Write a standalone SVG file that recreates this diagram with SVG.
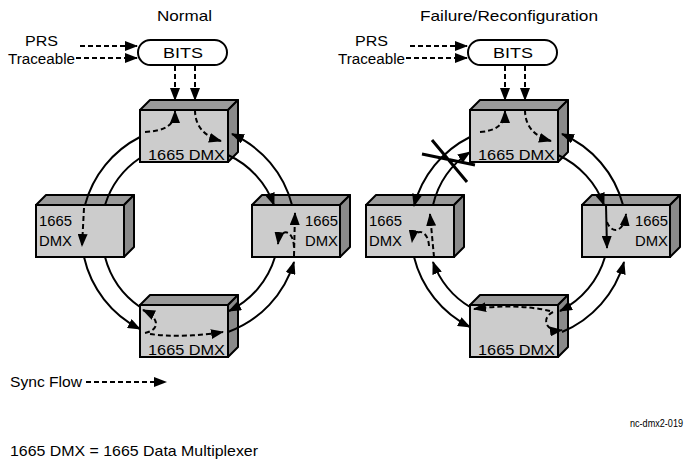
<svg xmlns="http://www.w3.org/2000/svg" width="693" height="466" viewBox="0 0 693 466">
<defs>
<marker id="a" markerUnits="userSpaceOnUse" markerWidth="14" markerHeight="10" refX="12" refY="5" orient="auto"><path d="M0,0 L13,5 L0,10 Z" fill="#000"/></marker>
<g id="box">
<polygon points="0,10 10,0 98,0 88,10" fill="#9a9a9a" stroke="#000" stroke-width="2" stroke-linejoin="round"/>
<polygon points="88,10 98,0 98,52 88,62" fill="#8a8a8a" stroke="#000" stroke-width="2" stroke-linejoin="round"/>
<rect x="0" y="10" width="88" height="52" fill="#cccccc" stroke="#000" stroke-width="2"/>
</g>
</defs>
<style>
text{font-family:"Liberation Sans",Arial,sans-serif;font-size:15px;fill:#000}
.p{font-size:14px}
.s{fill:none;stroke:#000;stroke-width:2}
.d{fill:none;stroke:#000;stroke-width:2;stroke-dasharray:5,3}
.m{marker-end:url(#a)}
</style>
<rect width="693" height="466" fill="#fff"/>
<text x="157" y="21" textLength="55" lengthAdjust="spacingAndGlyphs">Normal</text>
<text x="420" y="21" textLength="178" lengthAdjust="spacingAndGlyphs">Failure/Reconfiguration</text>

<g id="nodes">
<g id="bitsL"><rect x="138" y="40" width="89" height="25" rx="12.5" fill="#fff" stroke="#000" stroke-width="2"/><text x="163" y="58" textLength="40" lengthAdjust="spacingAndGlyphs">BITS</text></g>
<g id="bitsR"><rect x="468" y="40" width="89" height="25" rx="12.5" fill="#fff" stroke="#000" stroke-width="2"/><text x="493" y="58" textLength="40" lengthAdjust="spacingAndGlyphs">BITS</text></g>
<g id="prsL"><text class="p" x="25" y="46" textLength="33" lengthAdjust="spacingAndGlyphs">PRS</text><text class="p" x="8" y="64" textLength="67" lengthAdjust="spacingAndGlyphs">Traceable</text></g>
<g id="prsR"><text class="p" x="355" y="46" textLength="33" lengthAdjust="spacingAndGlyphs">PRS</text><text class="p" x="338" y="64" textLength="67" lengthAdjust="spacingAndGlyphs">Traceable</text></g>
<g id="topL"><use href="#box" x="140" y="100"/><text x="148" y="160" textLength="77" lengthAdjust="spacingAndGlyphs">1665 DMX</text></g>
<g id="leftL"><use href="#box" x="36" y="195"/><text x="39" y="226" textLength="33" lengthAdjust="spacingAndGlyphs">1665</text><text x="39" y="246" textLength="33" lengthAdjust="spacingAndGlyphs">DMX</text></g>
<g id="rightL"><use href="#box" x="252" y="195"/><text x="305" y="226" textLength="33" lengthAdjust="spacingAndGlyphs">1665</text><text x="305" y="246" textLength="33" lengthAdjust="spacingAndGlyphs">DMX</text></g>
<g id="botL"><use href="#box" x="140" y="295"/><text x="148" y="355" textLength="77" lengthAdjust="spacingAndGlyphs">1665 DMX</text></g>
<g id="topR"><use href="#box" x="470" y="100"/><text x="478" y="160" textLength="77" lengthAdjust="spacingAndGlyphs">1665 DMX</text></g>
<g id="leftR"><use href="#box" x="366" y="195"/><text x="369" y="226" textLength="33" lengthAdjust="spacingAndGlyphs">1665</text><text x="369" y="246" textLength="33" lengthAdjust="spacingAndGlyphs">DMX</text></g>
<g id="rightR"><use href="#box" x="582" y="195"/><text x="635" y="226" textLength="33" lengthAdjust="spacingAndGlyphs">1665</text><text x="635" y="246" textLength="33" lengthAdjust="spacingAndGlyphs">DMX</text></g>
<g id="botR"><use href="#box" x="470" y="295"/><text x="478" y="355" textLength="77" lengthAdjust="spacingAndGlyphs">1665 DMX</text></g>
</g>

<g id="connectors">
<path class="d m" d="M80,46 H137"/>
<path class="d m" d="M76,58 H137"/>
<path class="d m" d="M175,66 V100"/>
<path class="d m" d="M195,66 V100"/>
<path class="d m" d="M145,132 C165,131 175,125 175,111"/>
<path class="d m" d="M195,110 C195,125 203,136 221,141"/>
<path class="s" d="M140,137 A107,107 0 0 0 85,205"/>
<path class="d m" d="M84,208 L82,246"/>
<path class="s m" d="M84,257 A107,107 0 0 0 140,329"/>
<path class="d m" d="M145,333 C160,330 160,318 143,310"/>
<path class="d m" d="M150,334 C170,337 200,336 223,332"/>
<path class="s m" d="M228,332 A107,107 0 0 0 294,262"/>
<path class="d m" d="M294,256 L295,213"/>
<path class="s m" d="M292,205 A107,107 0 0 0 232,134"/>
<path class="s" d="M140,158 A88,88 0 0 0 105,205"/>
<path class="s" d="M105,257 A88,88 0 0 0 140,307"/>
<path class="s m" d="M228,155 A88,88 0 0 1 274,205"/>
<path class="d m" d="M294,247 C293,228 280,228 278,244"/>
<path class="s m" d="M275,257 A88,88 0 0 1 229,311"/>
<path class="d m" d="M410,46 H467"/>
<path class="d m" d="M406,58 H467"/>
<path class="d m" d="M505,66 V100"/>
<path class="d m" d="M525,66 V100"/>
<path class="d m" d="M480,132 C495,131 505,125 505,111"/>
<path class="d m" d="M525,110 C525,125 533,136 551,141"/>
<path class="s m" d="M470,137 A107,107 0 0 0 414,206"/>
<path class="s m" d="M414,257 A107,107 0 0 0 470,327"/>
<path class="s m" d="M470,307 A88,88 0 0 1 433,262"/>
<path class="d m" d="M434,257 L430,214"/>
<path class="s m" d="M433,205 A88,88 0 0 1 470,152"/>
<path class="d m" d="M429,246 C428,228 414,228 412,242"/>
<path class="s" d="M422,154 L475,165 M432,140 L467,182" style="stroke-width:3"/>
<path class="s m" d="M558,155 A88,88 0 0 1 604,205"/>
<path class="s m" d="M606,205 L607,248"/>
<path class="d m" d="M607,222 C612,235 624,232 626,214"/>
<path class="s m" d="M605,257 A88,88 0 0 1 560,311"/>
<path class="s m" d="M562,332 A107,107 0 0 0 624,262"/>
<path class="s m" d="M623,205 A107,107 0 0 0 562,134"/>
<path class="d m" d="M550,311 C530,306 500,305 474,309"/>
<path class="d m" d="M553,312 C541,318 545,332 562,330"/>
<path class="d m" d="M86,382 H166"/>
</g>
<text x="10" y="387" textLength="72" lengthAdjust="spacingAndGlyphs">Sync Flow</text>
<text x="630" y="427" style="font-size:10px" textLength="53" lengthAdjust="spacingAndGlyphs">nc-dmx2-019</text>
<text x="10" y="456" textLength="248" lengthAdjust="spacingAndGlyphs">1665 DMX = 1665 Data Multiplexer</text>
</svg>
